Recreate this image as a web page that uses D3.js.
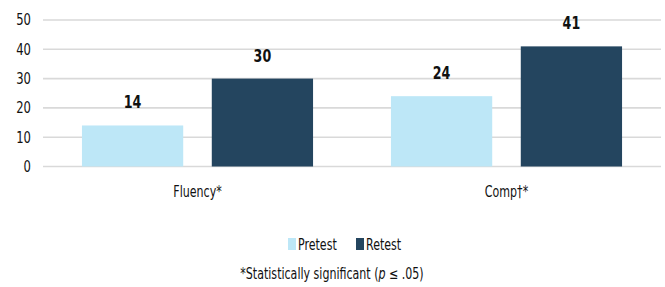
<!DOCTYPE html>
<html>
<head>
<meta charset="utf-8">
<script src="https://cdn.jsdelivr.net/npm/d3@7/dist/d3.min.js"></script>
<style>
  html, body { margin: 0; padding: 0; background: #ffffff; }
  svg { display: block; }
</style>
</head>
<body>
<script>
const categories = ['Fluency*', 'Comp†*'];
const seriesNames = ['Pretest', 'Retest'];
const pretest = [14, 24];
const retest = [30, 41];
const yTicks = [0, 10, 20, 30, 40, 50];
const footnote = '*Statistically significant (';

const palette = {
  pretest: '#bde7f7',
  retest: '#24455f',
  grid: '#d9d9d9',
  text: '#111111'
};
// the original uses a condensed face; squeeze DejaVu Sans Condensed horizontally
const narrow = '"DejaVu Sans Condensed", "Liberation Sans Narrow", sans-serif';
const squeeze = 'scale(0.82,1)';

const width = 665;
const height = 287;
const margin = { top: 20, right: 4, bottom: 120, left: 43 };

const svg = d3.select('body')
  .append('svg')
  .attr('width', width)
  .attr('height', height);

const x0 = d3.scaleBand()
  .domain(categories)
  .range([margin.left, width - margin.right])
  .paddingInner(0)
  .paddingOuter(0);

const x1 = d3.scaleBand()
  .domain(seriesNames)
  .range([0, x0.bandwidth()])
  .paddingInner(0.22)
  .paddingOuter(0.3);

const y = d3.scaleLinear()
  .domain([0, 50])
  .range([height - margin.bottom - 0.5, margin.top]);

// gridlines
svg.append('g')
  .selectAll('line')
  .data(yTicks)
  .enter()
  .append('line')
  .attr('x1', margin.left)
  .attr('x2', width - margin.right)
  .attr('y1', d => y(d))
  .attr('y2', d => y(d))
  .attr('stroke', palette.grid)
  .attr('stroke-width', 1.6);

// y axis labels
const yAxis = svg.append('g')
  .attr('transform', `translate(${margin.left - 12},0)`)
  .call(d3.axisLeft(y).tickValues(yTicks).tickSize(0).tickPadding(0));
yAxis.select('.domain').remove();
yAxis.selectAll('text')
  .attr('font-family', narrow)
  .attr('font-size', 15)
  .attr('fill', palette.text)
  .attr('transform', 'scale(0.86,1)');

const rows = categories.map((c, i) => ({
  cat: c,
  values: [
    { key: 'Pretest', value: pretest[i], color: palette.pretest },
    { key: 'Retest', value: retest[i], color: palette.retest }
  ]
}));

const groups = svg.append('g')
  .selectAll('g')
  .data(rows)
  .enter()
  .append('g')
  .attr('transform', d => `translate(${x0(d.cat)},0)`);

groups.selectAll('rect')
  .data(d => d.values)
  .enter()
  .append('rect')
  .attr('x', d => x1(d.key))
  .attr('y', d => y(d.value))
  .attr('width', x1.bandwidth())
  .attr('height', d => y(0) - y(d.value))
  .attr('fill', d => d.color);

groups.selectAll('text.bar-label')
  .data(d => d.values)
  .enter()
  .append('text')
  .attr('class', 'bar-label')
  .attr('transform', d => `translate(${x1(d.key) + x1.bandwidth() / 2},${y(d.value) - 17}) scale(0.76,1)`)
  .attr('text-anchor', 'middle')
  .attr('font-family', narrow)
  .attr('font-weight', 700)
  .attr('font-size', 18.5)
  .attr('fill', palette.text)
  .text(d => d.value);

// category axis
const xAxis = svg.append('g')
  .attr('transform', `translate(0,${y(0) + 20})`)
  .call(d3.axisBottom(x0).tickSize(0).tickPadding(0));
xAxis.select('.domain').remove();
xAxis.selectAll('text')
  .attr('font-family', narrow)
  .attr('font-size', 15)
  .attr('fill', palette.text)
  .attr('transform', squeeze);

// legend
const legendItems = [
  { label: 'Pretest', color: palette.pretest, x: 288 },
  { label: 'Retest', color: palette.retest, x: 356 }
];
const legend = svg.append('g').attr('transform', 'translate(0,238)');
legend.selectAll('rect')
  .data(legendItems)
  .enter()
  .append('rect')
  .attr('x', d => d.x)
  .attr('y', 0)
  .attr('width', 8)
  .attr('height', 12)
  .attr('fill', d => d.color);
legend.selectAll('text')
  .data(legendItems)
  .enter()
  .append('text')
  .attr('transform', d => `translate(${d.x + 10},12) ${squeeze}`)
  .attr('font-family', narrow)
  .attr('font-size', 15)
  .attr('fill', palette.text)
  .text(d => d.label);

// footnote
const fn = svg.append('text')
  .attr('transform', `translate(332,279) ${squeeze}`)
  .attr('text-anchor', 'middle')
  .attr('font-family', narrow)
  .attr('font-size', 15)
  .attr('fill', palette.text);
fn.append('tspan').text(footnote);
fn.append('tspan').attr('font-style', 'italic').text('p');
fn.append('tspan').text(' ≤ .05)');
</script>
</body>
</html>
